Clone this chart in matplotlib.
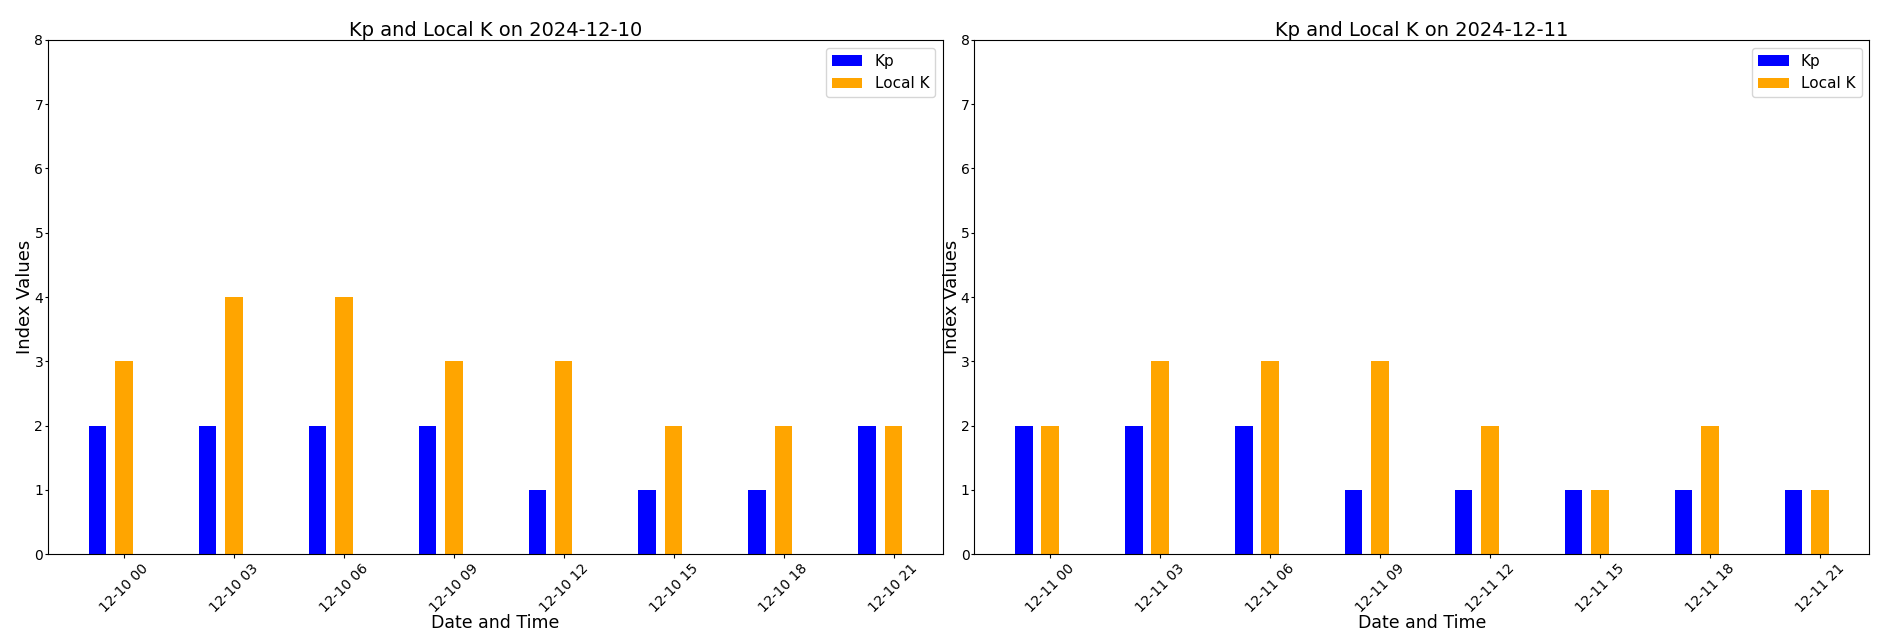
import matplotlib
matplotlib.use('Agg')
import matplotlib.dates as mdates
import matplotlib.pyplot as plt
import pandas as pd

# 3-hourly values for each day
DAYS = ['2024-12-10', '2024-12-11']
KP = {
    '2024-12-10': [2, 2, 2, 2, 1, 1, 1, 2],
    '2024-12-11': [2, 2, 2, 1, 1, 1, 1, 1],
}
LOCAL_K = {
    '2024-12-10': [3, 4, 4, 3, 3, 2, 2, 2],
    '2024-12-11': [2, 3, 3, 3, 2, 1, 2, 1],
}

fig, axes = plt.subplots(1, 2, figsize=(18.92, 6.43), dpi=100)
fig.subplots_adjust(left=0.0254, right=0.988, top=0.938, bottom=0.138, wspace=0.035)

bar_w = 0.02  # days
shift = pd.Timedelta(hours=0.72)

for ax, day in zip(axes, DAYS):
    times = pd.date_range(day, periods=8, freq='3h')
    ax.bar(times - shift, KP[day], width=bar_w, color='blue', label='Kp')
    ax.bar(times, LOCAL_K[day], width=bar_w, color='orange', label='Local K')

    ax.set_title(f'Kp and Local K on {day}', fontsize=14, pad=3)
    ax.set_xlabel('Date and Time', fontsize=12.5, labelpad=-1)
    ax.set_ylabel('Index Values', fontsize=13, labelpad=0)
    ax.set_ylim(0, 8)
    ax.xaxis.set_major_locator(mdates.HourLocator(byhour=range(0, 24, 3)))
    ax.xaxis.set_major_formatter(mdates.DateFormatter('%m-%d %H'))
    ax.tick_params(axis='x', labelrotation=45, labelsize=10, length=3, pad=2)
    ax.tick_params(axis='y', labelsize=10, length=2.5, pad=1)
    ax.legend(loc='upper right', fontsize=11)

fig.savefig('out.png', dpi=100, facecolor='white')
plt.close(fig)
